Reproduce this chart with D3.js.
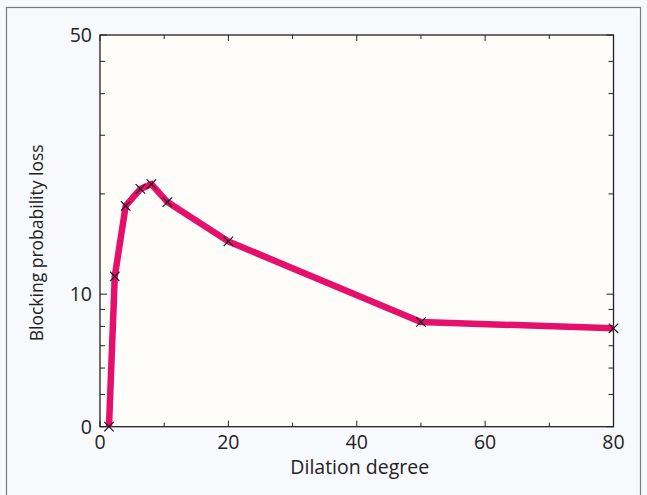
<!DOCTYPE html>
<html>
<head>
<meta charset="utf-8">
<script src="https://cdn.jsdelivr.net/npm/d3@7"></script>
<style>
  html, body { margin: 0; padding: 0; background: #f8f9fc; }
  svg { display: block; }
</style>
</head>
<body>
<svg id="chart"></svg>
<script>
// data
const dilation = [1.4, 2.3, 4, 6.3, 8, 10.5, 20, 50, 80];
const loss = [4, 11.3, 18.4, 20.7, 21.4, 18.9, 14.4, 8.25, 7.9];

// x axis
const xMajor = [0, 20, 40, 60, 80];
const xMinor = [10, 30, 50, 70];

// y axis (log scale, labelled ends)
const yMajor = [4, 10, 60];
const yMajorLabels = ["0", "10", "50"];
const yMinor = [5, 6, 7, 8, 9, 20, 30, 40, 50];

const width = 647, height = 495;
const margin = { top: 35, right: 33.5, bottom: 68.3, left: 100 };

const svg = d3.select("#chart")
    .attr("width", width)
    .attr("height", height)
    .style("font-family", "'Open Sans', sans-serif");

// outer frame
svg.append("rect")
    .attr("x", 6.5).attr("y", 7.5)
    .attr("width", 634).attr("height", 500)
    .attr("fill", "#f8f9fc")
    .attr("stroke", "#7a7a7a")
    .attr("stroke-width", 1.2);

const x = d3.scaleLinear()
    .domain([0, 80])
    .range([margin.left, width - margin.right]);

const y = d3.scaleLog()
    .domain([4, 60])
    .range([height - margin.bottom, margin.top]);

const x0 = x.range()[0], x1 = x.range()[1];
const y0 = y.range()[0], y1 = y.range()[1];

// plot background
svg.append("rect")
    .attr("x", x0).attr("y", y1)
    .attr("width", x1 - x0).attr("height", y0 - y1)
    .attr("fill", "#fffdf9");

// ticks (inward, on all four sides)
const ticks = svg.append("g").attr("stroke", "#222").attr("stroke-width", 1);

const xTick = (v, len) => {
    ticks.append("line").attr("x1", x(v)).attr("x2", x(v)).attr("y1", y0).attr("y2", y0 - len);
    ticks.append("line").attr("x1", x(v)).attr("x2", x(v)).attr("y1", y1).attr("y2", y1 + len);
};
const yTick = (v, len) => {
    ticks.append("line").attr("y1", y(v)).attr("y2", y(v)).attr("x1", x0).attr("x2", x0 + len);
    ticks.append("line").attr("y1", y(v)).attr("y2", y(v)).attr("x1", x1).attr("x2", x1 - len);
};
xMajor.forEach(v => xTick(v, 6));
xMinor.forEach(v => xTick(v, 4));
yMajor.forEach(v => yTick(v, 7));
yMinor.forEach(v => yTick(v, 5));

// frame of the plot
svg.append("rect")
    .attr("x", x0).attr("y", y1)
    .attr("width", x1 - x0).attr("height", y0 - y1)
    .attr("fill", "none")
    .attr("stroke", "#222")
    .attr("stroke-width", 1.3);

// tick labels
svg.append("g")
    .attr("font-size", 19.5)
    .attr("fill", "#222")
    .attr("text-anchor", "middle")
    .selectAll("text")
    .data(xMajor)
    .join("text")
    .attr("x", d => x(d))
    .attr("y", y0 + 22)
    .text(d => d);

svg.append("g")
    .attr("font-size", 19.5)
    .attr("fill", "#222")
    .attr("text-anchor", "end")
    .selectAll("text")
    .data(yMajor)
    .join("text")
    .attr("x", x0 - 8)
    .attr("y", d => y(d))
    .attr("dy", "0.35em")
    .text((d, i) => yMajorLabels[i]);

// axis titles
svg.append("text")
    .attr("x", (x0 + x1) / 2 + 3)
    .attr("y", 474)
    .attr("text-anchor", "middle")
    .attr("font-size", 19.5)
    .attr("fill", "#222")
    .text("Dilation degree");

svg.append("text")
    .attr("transform", `translate(43, ${(y0 + y1) / 2 + 12}) rotate(-90)`)
    .attr("text-anchor", "middle")
    .attr("font-size", 17.5)
    .attr("fill", "#222")
    .text("Blocking probability loss");

// the series
const pts = dilation.map((d, i) => [d, loss[i]]);

svg.append("path")
    .datum(pts)
    .attr("fill", "none")
    .attr("stroke", "#e5106c")
    .attr("stroke-width", 6.5)
    .attr("stroke-linejoin", "miter")
    .attr("d", d3.line().x(d => x(d[0])).y(d => y(d[1])));

svg.append("g")
    .selectAll("path")
    .data(pts)
    .join("path")
    .attr("transform", d => `translate(${x(d[0])},${y(d[1])})`)
    .attr("d", d3.symbol(d3.symbolTimes, 60))
    .attr("fill", "none")
    .attr("stroke", "#111")
    .attr("stroke-width", 1.1);
</script>
</body>
</html>
